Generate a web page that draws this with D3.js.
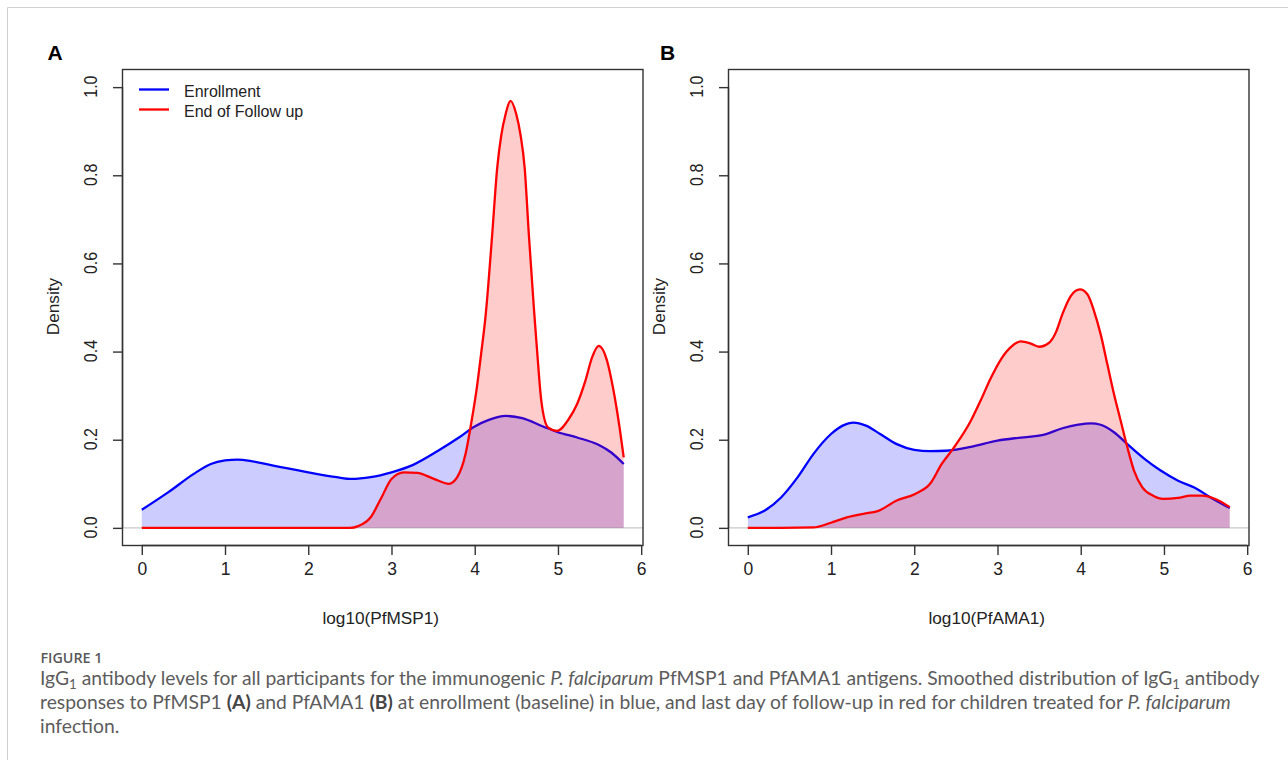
<!DOCTYPE html>
<html><head><meta charset="utf-8">
<script src="https://cdn.jsdelivr.net/npm/d3@7"></script>
<style>
html,body{margin:0;padding:0;background:#fff;}
svg{display:block;}
</style></head>
<body>
<svg id="chart" width="1288" height="760"></svg>
<script>
// ---------- data ----------
const xTicks = [0, 1, 2, 3, 4, 5, 6];
const yTicks = [0, 0.2, 0.4, 0.6, 0.8, 1.0];
const yTickLabels = ["0.0", "0.2", "0.4", "0.6", "0.8", "1.0"];
const seriesNames = ["Enrollment", "End of Follow up"];
const seriesColors = ["#0000ff", "#ff0000"];
const panelLabels = ["A", "B"];
const xAxisTitles = ["log10(PfMSP1)", "log10(PfAMA1)"];

// Panel A – PfMSP1, Enrollment (blue)
const msp1EnrollX = [0, 0.32, 0.62, 0.83, 1.0, 1.15, 1.33, 1.58, 2.0, 2.34, 2.52, 2.75, 3.0, 3.26, 3.56, 3.81, 4.0, 4.17, 4.37, 4.57, 4.82, 5.0, 5.23, 5.48, 5.64, 5.79];
const msp1EnrollY = [0.041, 0.081, 0.122, 0.145, 0.153, 0.155, 0.151, 0.141, 0.126, 0.115, 0.111, 0.115, 0.126, 0.143, 0.175, 0.205, 0.230, 0.245, 0.254, 0.249, 0.230, 0.217, 0.205, 0.189, 0.171, 0.145];
// Panel A – PfMSP1, End of follow up (red)
const msp1EndX = [0, 1, 2, 2.5, 2.6, 2.75, 2.88, 3.0, 3.15, 3.31, 3.51, 3.69, 3.79, 3.89, 3.96, 4.02, 4.08, 4.13, 4.21, 4.27, 4.32, 4.37, 4.43, 4.50, 4.55, 4.60, 4.65, 4.71, 4.75, 4.80, 4.88, 4.99, 5.13, 5.23, 5.33, 5.41, 5.49, 5.59, 5.66, 5.74, 5.79];
const msp1EndY = [0, 0, 0, 0, 0.004, 0.024, 0.069, 0.111, 0.126, 0.125, 0.111, 0.100, 0.115, 0.168, 0.240, 0.311, 0.400, 0.480, 0.666, 0.817, 0.892, 0.938, 0.969, 0.938, 0.892, 0.817, 0.666, 0.500, 0.400, 0.288, 0.228, 0.220, 0.247, 0.281, 0.334, 0.387, 0.413, 0.379, 0.319, 0.228, 0.160];

// Panel B – PfAMA1, Enrollment (blue)
const ama1EnrollX = [0, 0.2, 0.4, 0.6, 0.79, 1.0, 1.14, 1.27, 1.42, 1.59, 1.79, 2.0, 2.19, 2.38, 2.68, 3.0, 3.28, 3.55, 3.78, 3.97, 4.12, 4.24, 4.40, 4.56, 4.77, 4.96, 5.17, 5.37, 5.56, 5.79];
const ama1EnrollY = [0.024, 0.039, 0.069, 0.115, 0.168, 0.213, 0.232, 0.239, 0.232, 0.213, 0.190, 0.177, 0.174, 0.175, 0.184, 0.198, 0.205, 0.211, 0.226, 0.234, 0.237, 0.234, 0.217, 0.190, 0.156, 0.130, 0.107, 0.091, 0.069, 0.045];
// Panel B – PfAMA1, End of follow up (red)
const ama1EndX = [0, 0.4, 0.79, 0.99, 1.19, 1.39, 1.56, 1.79, 2.01, 2.19, 2.33, 2.48, 2.68, 2.80, 2.92, 3.04, 3.16, 3.28, 3.40, 3.50, 3.62, 3.70, 3.78, 3.88, 3.99, 4.08, 4.16, 4.24, 4.32, 4.40, 4.48, 4.56, 4.64, 4.74, 4.87, 4.99, 5.17, 5.32, 5.46, 5.61, 5.79];
const ama1EndY = [0, 0, 0.001, 0.011, 0.024, 0.032, 0.038, 0.062, 0.077, 0.100, 0.145, 0.183, 0.243, 0.290, 0.340, 0.382, 0.410, 0.423, 0.418, 0.411, 0.420, 0.443, 0.485, 0.526, 0.541, 0.530, 0.492, 0.439, 0.371, 0.303, 0.243, 0.183, 0.130, 0.092, 0.073, 0.066, 0.068, 0.073, 0.073, 0.066, 0.047];

const panels = [
  {enrollX: msp1EnrollX, enrollY: msp1EnrollY, endX: msp1EndX, endY: msp1EndY},
  {enrollX: ama1EnrollX, enrollY: ama1EnrollY, endX: ama1EndX, endY: ama1EndY}
];

// ---------- layout ----------
const svg = d3.select("#chart");
const boxTop = 69.5, boxBottom = 545.5, boxW = 520.5;
const boxLefts = [122.5, 728.5];
const letterX = [47.5, 660];
const axisFont = "'Liberation Sans', Arial, Helvetica, sans-serif";
const ink = "#222";

// card frame
svg.append("path").attr("d", "M7.5,760 V7.5 H1288").attr("fill", "none").attr("stroke", "#cfcfcf").attr("stroke-width", 1);

panels.forEach((p, i) => {
  const L = boxLefts[i], R = L + boxW;
  // R-style 4% axis extension
  const x = d3.scaleLinear().domain([-0.2316, 6.0216]).range([L, R]);
  const y = d3.scaleLinear().domain([-0.04, 1.04]).range([boxBottom, boxTop]);
  const g = svg.append("g");

  // zero line
  g.append("line").attr("x1", L).attr("x2", R).attr("y1", y(0)).attr("y2", y(0))
    .attr("stroke", "#c8c8c8").attr("stroke-width", 1.2);

  const series = [
    {xs: p.enrollX, ys: p.enrollY, c: seriesColors[0], fill: "rgba(0,0,255,0.2)"},
    {xs: p.endX, ys: p.endY, c: seriesColors[1], fill: "rgba(255,0,0,0.2)"}
  ];
  series.forEach(s => {
    const pts = s.xs.map((v, k) => [v, s.ys[k]]);
    const area = d3.area().x(d => x(d[0])).y0(y(0)).y1(d => y(d[1])).curve(d3.curveMonotoneX);
    const line = d3.line().x(d => x(d[0])).y(d => y(d[1])).curve(d3.curveMonotoneX);
    g.append("path").attr("d", area(pts)).attr("fill", s.fill).attr("stroke", "none");
    g.append("path").attr("d", line(pts)).attr("fill", "none").attr("stroke", s.c)
      .attr("stroke-width", 2.3).attr("stroke-linejoin", "round");
  });

  // box
  g.append("rect").attr("x", L).attr("y", boxTop).attr("width", boxW).attr("height", boxBottom - boxTop)
    .attr("fill", "none").attr("stroke", "#333").attr("stroke-width", 1.4);

  // x axis
  const xAxis = d3.axisBottom(x).tickValues(xTicks).tickSize(9.5).tickPadding(8).tickFormat(d3.format("d"));
  const xa = g.append("g").attr("transform", `translate(0,${boxBottom})`).call(xAxis);
  xa.select(".domain").attr("d", `M${x(0)},0H${x(6)}`).attr("stroke", "#333").attr("stroke-width", 1.4);
  xa.selectAll(".tick line").attr("stroke", "#333").attr("stroke-width", 1.4);
  xa.selectAll(".tick text").attr("font-family", axisFont).attr("font-size", 17.5).attr("fill", ink);

  // y axis
  const yAxis = d3.axisLeft(y).tickValues(yTicks).tickSize(9.5).tickFormat((d, k) => yTickLabels[k]);
  const ya = g.append("g").attr("transform", `translate(${L},0)`).call(yAxis);
  ya.select(".domain").attr("d", `M0,${y(0)}V${y(1)}`).attr("stroke", "#333").attr("stroke-width", 1.4);
  ya.selectAll(".tick line").attr("stroke", "#333").attr("stroke-width", 1.4);
  ya.selectAll(".tick text").attr("font-family", axisFont).attr("font-size", 16).attr("fill", ink)
    .attr("x", 0).attr("dy", null).attr("text-anchor", "middle")
    .attr("transform", "translate(-31,-1) rotate(-90) scale(1,1.12)").attr("dominant-baseline", "central");

  // axis titles
  g.append("text").attr("x", (L + R) / 2 - 2).attr("y", 624).attr("text-anchor", "middle")
    .attr("font-family", axisFont).attr("font-size", 17.2).attr("fill", ink).text(xAxisTitles[i]);
  g.append("text").attr("transform", `translate(${L - 69.5},${(boxTop + boxBottom) / 2 - 1}) rotate(-90)`)
    .attr("text-anchor", "middle").attr("dominant-baseline", "central")
    .attr("font-family", axisFont).attr("font-size", 17.2).attr("fill", ink).text("Density");

  // panel letter
  g.append("text").attr("x", letterX[i]).attr("y", 60).attr("font-family", axisFont).attr("font-weight", "bold")
    .attr("font-size", 21).attr("fill", "#000").text(panelLabels[i]);

  // legend (panel A only)
  if (i === 0) {
    seriesNames.forEach((nm, k) => {
      const yy = 89.5 + k * 20;
      g.append("line").attr("x1", L + 16.5).attr("x2", L + 46.5).attr("y1", yy).attr("y2", yy)
        .attr("stroke", seriesColors[k]).attr("stroke-width", 2.3);
      g.append("text").attr("x", L + 61.5).attr("y", yy + 2).attr("dominant-baseline", "central")
        .attr("font-family", axisFont).attr("font-size", 16).attr("fill", ink).text(nm);
    });
  }
});

// ---------- caption ----------
const capFont = "Lato, 'Open Sans', sans-serif";
const capColor = "#5c5c5c";
svg.append("text").attr("x", 40.5).attr("y", 663).attr("font-family", "'Open Sans', sans-serif")
  .attr("font-weight", 600).attr("font-size", 14.3).attr("fill", "#595959").text("FIGURE 1");

const capLines = [
  [["IgG", ""], ["1", "sub"], [" antibody levels for all participants for the immunogenic ", ""], ["P. falciparum", "i"], [" PfMSP1 and PfAMA1 antigens. Smoothed distribution of IgG", ""], ["1", "sub"], [" antibody", ""]],
  [["responses to PfMSP1 ", ""], ["(A)", "b"], [" and PfAMA1 ", ""], ["(B)", "b"], [" at enrollment (baseline) in blue, and last day of follow-up in red for children treated for ", ""], ["P. falciparum", "i"]],
  [["infection.", ""]]
];
const capBaselines = [685, 709, 733];
const capTexts = capLines.map((segs, li) => {
  const t = svg.append("text").attr("x", 40).attr("y", capBaselines[li])
    .attr("font-family", capFont).attr("font-size", 16.5).attr("fill", capColor);
  segs.forEach(([s, st], k) => {
    const ts = t.append("tspan").text(s);
    if (st === "i") ts.attr("font-style", "italic");
    if (st === "b") ts.attr("font-weight", "bold").attr("fill", "#444");
    if (st === "sub") ts.attr("font-size", 11).attr("dy", 4).classed("sub", true);
    if (k > 0 && segs[k - 1][1] === "sub") ts.attr("dy", -4);
  });
  return t;
});
// fit first line width to the reference (~1220 px)
const w0 = capTexts[0].node().getComputedTextLength();
const fs = 16.5 * 1220 / w0;
capTexts.forEach(t => {
  t.attr("font-size", fs);
  t.selectAll("tspan.sub").attr("font-size", fs * 0.68);
});
</script>
</body></html>
